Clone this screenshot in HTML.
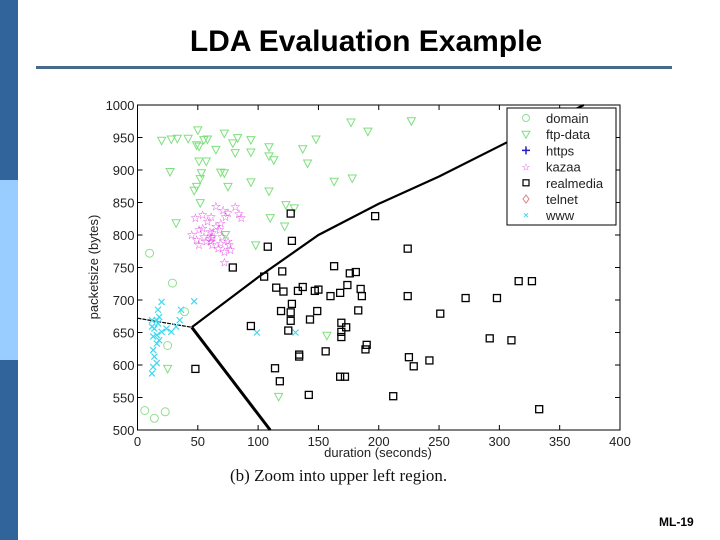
<!DOCTYPE html>
<html><head><meta charset="utf-8"><style>
html,body{margin:0;padding:0;background:#fff;}
body{width:720px;height:540px;position:relative;overflow:hidden;font-family:"Liberation Sans",sans-serif;}
.bar{position:absolute;left:0;width:18px;}
</style></head><body>
<div class="bar" style="top:0;height:180px;background:#31649a"></div>
<div class="bar" style="top:180px;height:180px;background:#99ccff"></div>
<div class="bar" style="top:360px;height:180px;background:#31649a"></div>
<div style="position:absolute;left:0;width:732px;top:25px;text-align:center;font-size:30px;font-weight:bold;color:#000;">LDA Evaluation Example</div>
<div style="position:absolute;left:36px;top:66px;width:636px;height:3px;background:#47698a"></div>
<div style="position:absolute;left:659px;top:515px;font-size:12px;font-weight:bold;">ML-19</div>
<svg id="chart" width="720" height="540" style="position:absolute;left:0;top:0" xmlns="http://www.w3.org/2000/svg"></svg>
<script>
const xTicks=[0,50,100,150,200,250,300,350,400];
const yTicks=[500,550,600,650,700,750,800,850,900,950,1000];
const realmedia=[[127,833],[197,829],[108,782],[128,791],[79,750],[105,736],[120,744],[163,752],[176,741],[181,743],[115,719],[121,713],[133,714],[137,720],[147,714],[150,716],[160,706],[168,711],[174,723],[185,717],[186,706],[183,684],[149,683],[143,670],[119,683],[128,694],[127,681],[127,668],[125,653],[169,665],[169,651],[173,658],[169,643],[94,660],[48,594],[189,624],[190,631],[156,621],[134,613],[134,616],[114,595],[118,575],[168,582],[172,582],[142,554],[224,779],[224,706],[272,703],[298,703],[251,679],[316,729],[327,729],[292,641],[310,638],[225,612],[229,598],[242,607],[212,552],[333,532]];
const ftpData=[[20,945],[28,947],[33,948],[42,948],[50,961],[49,938],[51,936],[55,946],[58,947],[65,931],[72,956],[79,941],[83,949],[94,946],[109,935],[81,926],[94,927],[109,921],[113,915],[137,932],[148,947],[141,910],[51,913],[57,913],[27,897],[53,895],[52,886],[69,896],[72,895],[49,874],[47,868],[75,874],[94,881],[109,867],[52,849],[123,846],[130,841],[163,882],[178,887],[177,973],[191,959],[32,818],[110,826],[122,813],[73,800],[98,784],[25,594],[157,645],[117,551],[227,975]];
const domain=[[10,772],[29,726],[39,682],[25,630],[6,530],[14,518],[23,528]];
const kazaa=[[65,844],[71,838],[75,834],[81,843],[84,832],[86,826],[48,826],[54,831],[58,821],[61,828],[69,818],[73,828],[45,800],[49,792],[51,785],[55,797],[60,805],[61,795],[62,785],[67,779],[69,787],[72,774],[62,803],[65,813],[51,808],[75,790],[76,785],[70,797],[77,777],[72,758],[57,790],[61,790],[62,797],[54,810],[68,808]];
const www=[[20,697],[17,685],[16,669],[14,656],[17,664],[20,651],[13,644],[16,633],[13,623],[14,613],[13,597],[12,587],[16,603],[12,659],[18,674],[24,656],[28,651],[32,659],[35,669],[47,698],[36,685],[99,650],[131,650],[16,646],[12,669],[18,638]];
const boundaryLeft=[[0,672],[45,658]];
const boundaryLow=[[45,658],[110,500]];
const boundaryUp=[[45,658],[100,735],[150,800],[200,848],[250,890],[310,946],[370,1000]];

const svg=document.getElementById('chart');
const NS='http://www.w3.org/2000/svg';
const X0=137.5,X1=620,Y0=430,Y1=105;
function sx(v){return X0+(v-0)/(400-0)*(X1-X0);}
function sy(v){return Y0-(v-500)/(1000-500)*(Y0-Y1);}
function mk(tag,attrs,parent){const e=document.createElementNS(NS,tag);for(const k in attrs)e.setAttribute(k,attrs[k]);(parent||svg).appendChild(e);return e;}

const frame=mk('rect',{x:X0,y:Y1,width:X1-X0,height:Y0-Y1,fill:'#fff',stroke:'#000','stroke-width':1});



xTicks.forEach(t=>{
  const x=sx(t);
  mk('line',{x1:x,x2:x,y1:Y0,y2:Y0-5,stroke:'#000'});
  mk('line',{x1:x,x2:x,y1:Y1,y2:Y1+5,stroke:'#000'});
  const l=mk('text',{x:x,y:Y0+16,'text-anchor':'middle','font-size':13,fill:'#222'});
  l.textContent=t;
  
  
});
yTicks.forEach(t=>{
  const y=sy(t);
  mk('line',{x1:X0,x2:X0+5,y1:y,y2:y,stroke:'#000'});
  mk('line',{x1:X1,x2:X1-5,y1:y,y2:y,stroke:'#000'});
  const l=mk('text',{x:X0-3,y:y+5,'text-anchor':'end','font-size':13,fill:'#222'});
  l.textContent=t;
  
  
});
const xt=mk('text',{x:378,y:457,'text-anchor':'middle','font-size':13,fill:'#222'});
xt.textContent='duration (seconds)';


const yt=mk('text',{x:98,y:267,'text-anchor':'middle','font-size':13,fill:'#222',transform:'rotate(-90 98 267)'});
yt.textContent='packetsize (bytes)';


const cap=mk('text',{x:230,y:481,'font-size':17,fill:'#111','font-family':'Liberation Serif, serif'});
cap.textContent='(b) Zoom into upper left region.';



function line(pts,w,name){
  const p=mk('polyline',{points:pts.map(d=>sx(d[0])+','+sy(d[1])).join(' '),fill:'none',stroke:'#000','stroke-width':w,'stroke-dasharray':w>2?'none':'4 1'});
  
  
}
line(boundaryLeft,1.2,'boundary-left');
line(boundaryLow,3,'boundary-lower');
line(boundaryUp,2.2,'boundary-upper');

function tri(x,y,c){return mk('polygon',{points:`${x-4},${y-3.5} ${x+4},${y-3.5} ${x},${y+4}`,fill:'none',stroke:c,'stroke-width':1});}
function sq(x,y,c){return mk('rect',{x:x-3.5,y:y-3.5,width:7,height:7,fill:'none',stroke:c,'stroke-width':1.3});}
function circ(x,y,c){return mk('circle',{cx:x,cy:y,r:4,fill:'none',stroke:c,'stroke-width':1});}
function star(x,y,c){return mk('text',{x:x,y:y+4,'text-anchor':'middle','font-size':12,'font-weight':'bold',fill:c,'font-family':'DejaVu Sans,sans-serif'},svg);}
function cross(x,y,c){return mk('path',{d:`M${x-3},${y-3}L${x+3},${y+3}M${x-3},${y+3}L${x+3},${y-3}`,stroke:c,'stroke-width':1.2});}

ftpData.forEach(d=>{const e=tri(sx(d[0]),sy(d[1]),'#7de07d');
  
  });
domain.forEach(d=>{const e=circ(sx(d[0]),sy(d[1]),'#8fe08f');
  
  });
kazaa.forEach(d=>{const e=star(sx(d[0]),sy(d[1]),'#e030e0');e.textContent='☆';
  
  });
www.forEach(d=>{const e=cross(sx(d[0]),sy(d[1]),'#40d8ee');
  
  });
realmedia.forEach(d=>{const e=sq(sx(d[0]),sy(d[1]),'#000');
  
  });

const lg=mk('g',{});


mk('rect',{x:507,y:108,width:109,height:117,fill:'#fff',stroke:'#000','stroke-width':1},lg);
const names=['domain','ftp-data','https','kazaa','realmedia','telnet','www'];
names.forEach((n,i)=>{
  const y=118+i*16.2, mx=526;
  let m;
  if(i==0)m=mk('circle',{cx:mx,cy:y,r:3.5,fill:'none',stroke:'#8fe08f'},lg);
  if(i==1)m=mk('polygon',{points:`${mx-4},${y-3} ${mx+4},${y-3} ${mx},${y+4}`,fill:'none',stroke:'#7de07d'},lg);
  if(i==2)m=mk('path',{d:`M${mx-4},${y}H${mx+4}M${mx},${y-4}V${y+4}`,stroke:'#2020c0','stroke-width':1.5},lg);
  if(i==3){m=mk('text',{x:mx,y:y+4,'text-anchor':'middle','font-size':10,fill:'#e040e0'},lg);m.textContent='☆';}
  if(i==4)m=mk('rect',{x:mx-3,y:y-3,width:6,height:6,fill:'none',stroke:'#000','stroke-width':1.2},lg);
  if(i==5)m=mk('path',{d:`M${mx},${y-4}L${mx+3},${y}L${mx},${y+4}L${mx-3},${y}Z`,fill:'none',stroke:'#e08080'},lg);
  if(i==6)m=mk('path',{d:`M${mx-2},${y-2}L${mx+2},${y+2}M${mx-2},${y+2}L${mx+2},${y-2}`,stroke:'#40d8ee'},lg);
  const t=mk('text',{x:546,y:y+5,'font-size':13,fill:'#222'},lg);
  t.textContent=n;
  
  
});
</script>
</body></html>
